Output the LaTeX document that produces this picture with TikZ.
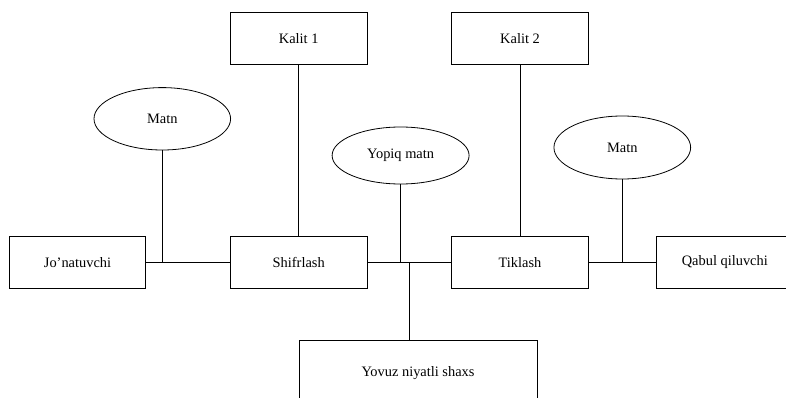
\documentclass[tikz,border=0pt]{standalone}
\usepackage{fontspec}
\setmainfont{Liberation Serif}
\usetikzlibrary{shapes.geometric}
\tikzset{
  boxnode/.style={draw, line width=0.8pt, rectangle, inner sep=0pt, minimum width=136.5pt, minimum height=51.3pt, font=\fontsize{14.4}{17}\selectfont},
  ellnode/.style={draw, line width=0.8pt, ellipse, inner sep=0pt, font=\fontsize{14.4}{17}\selectfont},
  link/.style={line width=0.8pt}
}
\begin{document}
\begin{tikzpicture}[x=1pt,y=-1pt]
\useasboundingbox (0,0) rectangle (786,398);
\node[boxnode] (jon) at (77.5,262.5) {Jo’natuvchi};
\node[boxnode] (shif) at (298.7,262.5) {Shifrlash};
\node[boxnode] (tik) at (520,262.5) {Tiklash};
\node[boxnode] (qab) at (724.8,262.5) {Qabul qiluvchi};
\node[boxnode] (k1) at (298.7,38.3) {Kalit 1};
\node[boxnode] (k2) at (520,38.3) {Kalit 2};
\node[ellnode, minimum width=136.6pt, minimum height=62.4pt] (m1) at (162.3,118.8) {Matn};
\node[ellnode, minimum width=137pt, minimum height=57pt] (yop) at (400.6,155.5) {Yopiq matn};
\node[ellnode, minimum width=136.7pt, minimum height=63pt] (m2) at (622.3,147.5) {Matn};
\node[boxnode, minimum width=238pt, minimum height=65.4pt] (eve) at (418,372.7) {Yovuz niyatli shaxs};
\coordinate (j) at (409.3,262.5);
\draw[link] (jon.east) -- (shif.west);
\draw[link] (shif.east) -- (tik.west);
\draw[link] (tik.east) -- (qab.west);
\draw[link] (m1.south) -- (m1.south |- jon.east);
\draw[link] (yop.south) -- (yop.south |- shif.east);
\draw[link] (m2.south) -- (m2.south |- tik.east);
\draw[link] (k1.south) -- (shif.north);
\draw[link] (k2.south) -- (tik.north);
\draw[link] (j) -- (j |- eve.north);
\end{tikzpicture}
\end{document}
